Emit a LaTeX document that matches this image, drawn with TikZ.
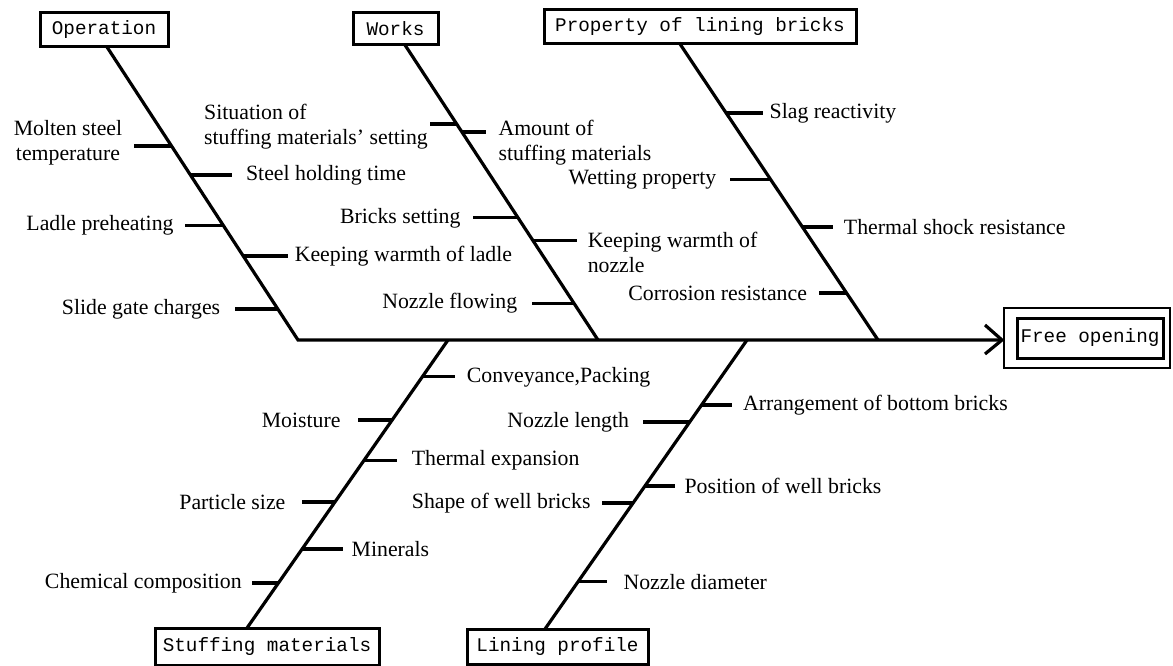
\documentclass[tikz,border=0pt]{standalone}
\usepackage{fontspec}
\setmainfont{Liberation Serif}
\newfontfamily\boxfont{Liberation Mono}
\begin{document}
\begin{tikzpicture}[x=1pt,y=-1pt,
  bone/.style={line width=3.2pt,line join=miter},
  rib/.style={line width=3.2pt},
  cat/.style={draw,line width=3pt,inner sep=0pt,font=\boxfont\fontsize{19.3}{22}\selectfont},
  lab/.style={inner sep=0pt,font=\fontsize{21.8}{25}\selectfont},
  labR/.style={lab,anchor=west},
  labL/.style={lab,anchor=east},
]
\useasboundingbox (0,0) rectangle (1173,666);

% category boxes
\node[cat,minimum width=128pt,minimum height=34pt] (op) at (104,30) {Operation};
\node[cat,minimum width=85pt,minimum height=32pt] (wk) at (395.5,29) {Works};
\node[cat,minimum width=312pt,minimum height=34pt] (pr) at (700,27) {Property of lining bricks};
\node[cat,minimum width=224pt,minimum height=37pt] (st) at (267,646.5) {Stuffing materials};
\node[cat,minimum width=181pt,minimum height=35pt] (li) at (557.5,646.5) {Lining profile};
\node[draw,line width=2.4pt,minimum width=166pt,minimum height=60pt,inner sep=0pt] (fo) at (1087,338) {};
\node[cat,minimum width=146pt,minimum height=40pt] (fi) at (1090,338) {Free opening};

% branch heads and feet
\coordinate (opT) at (107,47);
\coordinate (spL) at (298,340);
\coordinate (wT) at (405,45);
\coordinate (wB) at (598,340);
\coordinate (pT) at (680,44);
\coordinate (pB) at (878,340);
\coordinate (sT) at (448,340);
\coordinate (sB) at (247,628);
\coordinate (lT) at (747,340);
\coordinate (lB) at (545,629);
\coordinate (tip) at (1002,340);
\coordinate (a1) at (985,325);
\coordinate (a2) at (985,354);

% bones
\draw[bone] (opT) -- (spL) -- (tip);
\draw[bone] (a1) -- (tip) -- (a2);
\draw[bone] (wT) -- (wB);
\draw[bone] (pT) -- (pB);
\draw[bone] (sT) -- (sB);
\draw[bone] (lT) -- (lB);

% rib anchor points
\path (opT) -- (spL)
  coordinate[pos=0.338] (o1) coordinate[pos=0.437] (o2)
  coordinate[pos=0.608] (o3) coordinate[pos=0.713] (o4)
  coordinate[pos=0.894] (o5);
\path (wT) -- (wB)
  coordinate[pos=0.268] (w1) coordinate[pos=0.295] (w2)
  coordinate[pos=0.586] (w3) coordinate[pos=0.664] (w4)
  coordinate[pos=0.875] (w5);
\path (pT) -- (pB)
  coordinate[pos=0.233] (p1) coordinate[pos=0.459] (p2)
  coordinate[pos=0.618] (p3) coordinate[pos=0.841] (p4);
\path (sT) -- (sB)
  coordinate[pos=0.128] (s1) coordinate[pos=0.278] (s2)
  coordinate[pos=0.417] (s3) coordinate[pos=0.5625] (s4)
  coordinate[pos=0.726] (s5) coordinate[pos=0.844] (s6);
\path (lT) -- (lB)
  coordinate[pos=0.225] (l1) coordinate[pos=0.284] (l2)
  coordinate[pos=0.505] (l3) coordinate[pos=0.564] (l4)
  coordinate[pos=0.837] (l5);

% Operation ribs
\draw[rib] (o1) -- ++(-38,0) coordinate (o1e);
\node[lab,align=center] (o1t) at (68,143) {Molten steel\\temperature};
\draw[rib] (o2) -- ++(42,0) node[labR,xshift=12pt] (o2t) {Steel holding time};
\draw[rib] (o3) -- ++(-38,0) node[labL,xshift=-10pt] (o3t) {Ladle preheating};
\draw[rib] (o4) -- ++(45,0) node[labR,xshift=5pt] (o4t) {Keeping warmth of ladle};
\draw[rib] (o5) -- ++(-43,0) node[labL,xshift=-13pt] (o5t) {Slide gate charges};

% Works ribs
\draw[rib] (w1) -- ++(-27,0) coordinate (w1e);
\node[lab,align=left,anchor=east] (w1t) at (428,127) {Situation of\\stuffing materials' setting};
\draw[rib] (w2) -- ++(24,0) node[lab,align=left,anchor=west,xshift=11pt,yshift=-11pt] (w2t) {Amount of\\stuffing materials};
\draw[rib] (w3) -- ++(-45,0) node[labL,xshift=-11pt] (w3t) {Bricks setting};
\draw[rib] (w4) -- ++(44,0) node[lab,align=left,anchor=west,xshift=9pt,yshift=-12pt] (w4t) {Keeping warmth of\\nozzle};
\draw[rib] (w5) -- ++(-42,0) node[labL,xshift=-13pt] (w5t) {Nozzle flowing};

% Property ribs
\draw[rib] (p1) -- ++(37,0) node[labR,xshift=5pt] (p1t) {Slag reactivity};
\draw[rib] (p2) -- ++(-41,0) node[labL,xshift=-12pt] (p2t) {Wetting property};
\draw[rib] (p3) -- ++(31,0) node[labR,xshift=9pt] (p3t) {Thermal shock resistance};
\draw[rib] (p4) -- ++(-28,0) node[labL,xshift=-10pt] (p4t) {Corrosion resistance};

% Stuffing ribs
\draw[rib] (s1) -- ++(33,0) node[labR,xshift=10pt] (s1t) {Conveyance,Packing};
\draw[rib] (s2) -- ++(-34,0) node[labL,xshift=-16pt] (s2t) {Moisture};
\draw[rib] (s3) -- ++(33,0) node[labR,xshift=13pt] (s3t) {Thermal expansion};
\draw[rib] (s4) -- ++(-33,0) node[labL,xshift=-15pt] (s4t) {Particle size};
\draw[rib] (s5) -- ++(41,0) node[labR,xshift=7pt] (s5t) {Minerals};
\draw[rib] (s6) -- ++(-26,0) node[labL,xshift=-9pt] (s6t) {Chemical composition};

% Lining ribs
\draw[rib] (l1) -- ++(30,0) node[labR,xshift=10pt] (l1t) {Arrangement of bottom bricks};
\draw[rib] (l2) -- ++(-47,0) node[labL,xshift=-12pt] (l2t) {Nozzle length};
\draw[rib] (l3) -- ++(30,0) node[labR,xshift=8pt] (l3t) {Position of well bricks};
\draw[rib] (l4) -- ++(-31,0) node[labL,xshift=-10pt] (l4t) {Shape of well bricks};
\draw[rib] (l5) -- ++(29,0) node[labR,xshift=15pt] (l5t) {Nozzle diameter};
\end{tikzpicture}
\end{document}
